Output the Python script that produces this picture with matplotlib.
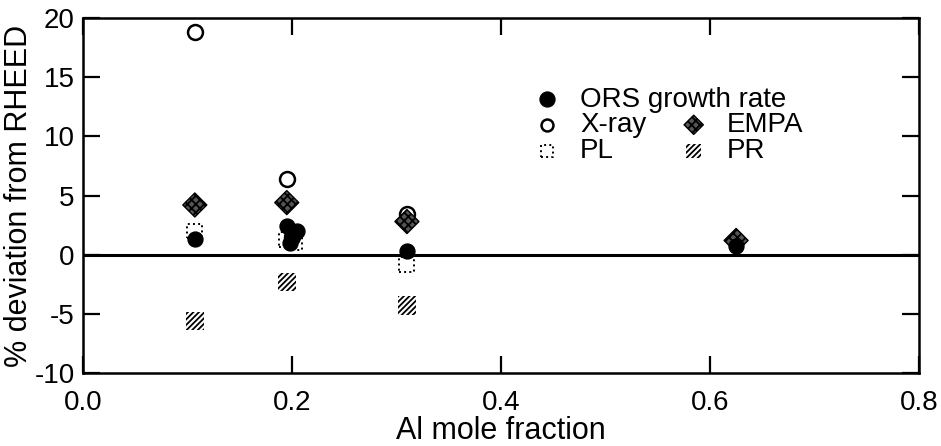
import matplotlib
matplotlib.use("Agg")
import matplotlib.pyplot as plt

plt.rcParams['font.family'] = ['Liberation Sans', 'DejaVu Sans']
plt.rcParams['hatch.linewidth'] = 1.3

# Data (Al mole fraction, % deviation from RHEED)
ors_x = [0.107, 0.195, 0.200, 0.205, 0.198, 0.310, 0.625]
ors_y = [1.3, 2.4, 1.6, 2.0, 1.0, 0.3, 0.7]
xray_x = [0.107, 0.195, 0.200, 0.310]
xray_y = [18.8, 6.4, 1.5, 3.4]
empa_x = [0.107, 0.195, 0.310, 0.625]
empa_y = [4.2, 4.4, 2.8, 1.2]
pl_x = [0.107, 0.195, 0.202, 0.310]
pl_y = [2.0, 1.3, 1.0, -0.8]
pr_x = [0.107, 0.195, 0.310]
pr_y = [-5.6, -2.3, -4.3]

xticks = [0.0, 0.2, 0.4, 0.6, 0.8]
yticks = [-10, -5, 0, 5, 10, 15, 20]

fig = plt.figure(figsize=(9.41, 4.46), dpi=100)
ax = fig.add_axes([0.0882, 0.1637, 0.8884, 0.7959])

ms = 115
pr = ax.scatter(pr_x, pr_y, s=170, marker='s', facecolor='white', edgecolor='black',
                hatch='//////', linewidths=0, zorder=3, label='PR')
pl = ax.scatter(pl_x, pl_y, s=ms, marker='s', facecolor='white', edgecolor='black',
                linewidths=1.4, linestyle=':', zorder=3, label='PL')
ors = ax.scatter(ors_x, ors_y, s=ms, marker='o', facecolor='black', edgecolor='black',
                 zorder=4, label='ORS growth rate')
xr = ax.scatter(xray_x, xray_y, s=ms, marker='o', facecolor='white', edgecolor='black',
                linewidths=1.8, zorder=3, label='X-ray')
em = ax.scatter(empa_x, empa_y, s=ms * 1.3, marker='D', facecolor='#555555', edgecolor='black',
                hatch='xxxx', linewidths=1.0, zorder=3, label='EMPA')

ax.axhline(0, color='black', linewidth=2.2, zorder=2)

ax.set_xlim(0.0, 0.8)
ax.set_ylim(-10, 20)
ax.set_xticks(xticks)
ax.set_xticklabels([f"{t:.1f}" for t in xticks])
ax.set_yticks(yticks)
ax.set_yticklabels([str(t) for t in yticks])
ax.tick_params(direction='in', length=12, width=1.6, top=True, right=True,
               labelsize=20)
ax.tick_params(axis='x', pad=12)
ax.tick_params(axis='y', pad=6)
for sp in ax.spines.values():
    sp.set_linewidth(1.8)

ax.set_xlabel('Al mole fraction', fontsize=22, labelpad=0)
ax.set_ylabel('% deviation from RHEED', fontsize=22, labelpad=0)

leg1 = ax.legend(handles=[ors], loc='center left', bbox_to_anchor=(0.535, 0.77),
                 frameon=False, fontsize=20, handletextpad=0.6, borderaxespad=0,
                 borderpad=0, handlelength=1.2, scatterpoints=1)
ax.add_artist(leg1)
ax.legend(handles=[xr, pl, em, pr], ncol=2, loc='upper left',
          bbox_to_anchor=(0.535, 0.735), frameon=False, fontsize=20,
          handletextpad=0.6, columnspacing=1.1, borderaxespad=0, borderpad=0,
          handlelength=1.2, labelspacing=0.0, scatterpoints=1,
          markerscale=0.8)

fig.savefig('out.png', dpi=100)
